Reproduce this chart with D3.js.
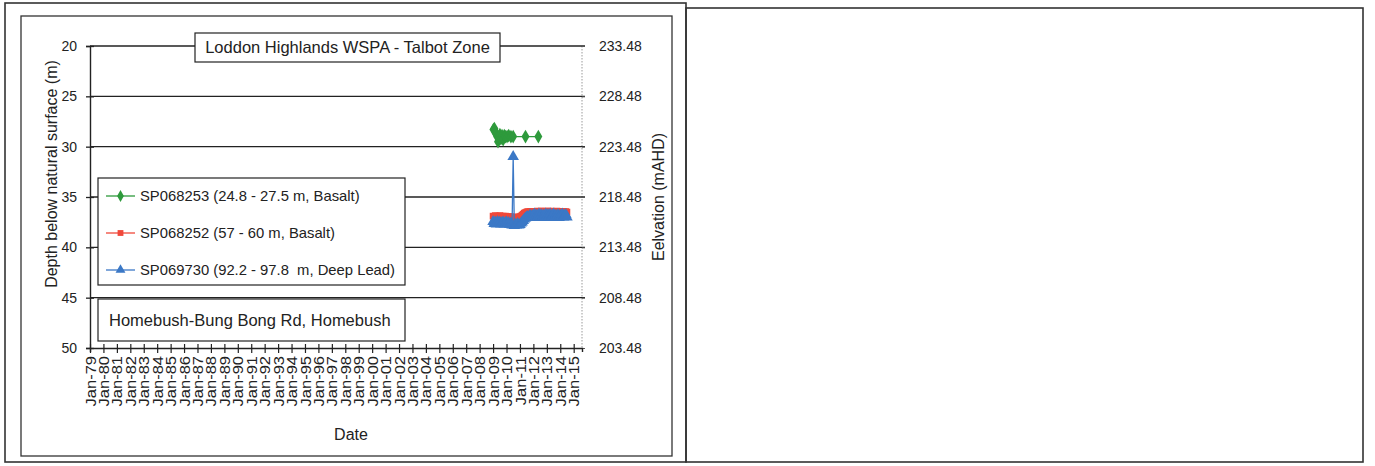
<!DOCTYPE html>
<html>
<head>
<meta charset="utf-8">
<script src="https://cdn.jsdelivr.net/npm/d3@7"></script>
<style>
  html, body { margin: 0; padding: 0; background: #fff; }
  svg { display: block; font-family: "Liberation Sans", Arial, sans-serif; }
</style>
</head>
<body>
<svg id="chart" width="1375" height="466"></svg>
<script>
// ---- Bore hydrograph data (depth below natural surface, m) ----
const seriesNames = [
  "SP068253 (24.8 - 27.5 m, Basalt)",
  "SP068252 (57 - 60 m, Basalt)",
  "SP069730 (92.2 - 97.8  m, Deep Lead)"
];
const seriesColors = ["#2e9a3c", "#f0483a", "#3b78c6"];

// SP068253 manual readings
const greenDates = ["2009-01-10","2009-02-05","2009-03-01","2009-03-25","2009-04-20","2009-05-15",
  "2009-06-10","2009-07-05","2009-08-01","2009-09-01","2009-10-01","2009-11-01","2009-12-01",
  "2010-01-15","2010-03-01","2010-05-01","2010-07-01","2011-06-01","2012-05-15"];
const greenDepth = [28.3, 28.2, 28.5, 28.7, 29.0, 29.5, 29.1, 28.8, 29.2, 28.9, 29.3, 28.9, 29.0,
  29.0, 28.9, 29.0, 29.0, 29.0, 29.0];

// SP068252 and SP069730 logger readings, monthly Jan-2009 to Jul-2014
const loggerStart = "2009-01-01";
const redDepth = [
  36.9, 36.95, 36.85, 36.95, 36.9, 36.95, 36.85, 36.9, 36.95, 36.9, 36.95, 36.9,
  36.95, 37.0, 36.95, 37.0, 36.95, 37.05, 37.0, 37.05, 37.0, 37.05, 37.0, 37.0,
  36.95, 36.9, 36.8, 36.7, 36.6, 36.55, 36.5, 36.45, 36.5, 36.45, 36.45, 36.5,
  36.45, 36.45, 36.5, 36.45, 36.4, 36.45, 36.45, 36.4, 36.45, 36.45, 36.4, 36.45,
  36.45, 36.4, 36.45, 36.45, 36.4, 36.45, 36.5, 36.45, 36.45, 36.4, 36.45, 36.45,
  36.45, 36.45, 36.5, 36.45, 36.5, 36.45, 36.5
];
const blueDepth = [
  37.45, 37.65, 37.5, 37.7, 37.45, 37.6, 37.5, 37.7, 37.55, 37.5, 37.7, 37.55,
  37.5, 37.7, 37.55, 37.75, 37.6, 37.8, 31.0, 37.85, 37.75, 37.8, 37.65, 37.8,
  37.75, 37.6, 37.5, 37.35, 37.2, 37.1, 37.0, 36.95, 37.05, 36.8, 37.0, 36.85,
  37.0, 36.7, 37.05, 36.8, 36.95, 36.7, 37.05, 36.75, 36.95, 36.8, 37.05, 36.7,
  37.0, 36.75, 36.95, 36.7, 37.05, 36.8, 36.7, 37.0, 36.8, 36.95, 36.75, 37.05,
  36.8, 36.95, 36.7, 37.0, 36.85, 36.75, 37.0
];

const depthTicks = [20, 25, 30, 35, 40, 45, 50];
const elevationTicks = [233.48, 228.48, 223.48, 218.48, 213.48, 208.48, 203.48];
const surfaceElevation = 253.48;
const xTickYears = d3.range(1979, 2016);

const parse = d3.timeParse("%Y-%m-%d");
const monthStart = parse(loggerStart);
const loggerDates = redDepth.map((_, i) => d3.timeMonth.offset(monthStart, i));

const greenData = greenDates.map((d, i) => ({ date: parse(d), v: greenDepth[i] }));
const redData = loggerDates.map((d, i) => ({ date: d, v: redDepth[i] }));
const blueData = loggerDates.map((d, i) => ({ date: d, v: blueDepth[i] }));

const svg = d3.select("#chart");

// ---- frames ----
const frameColor = "#333";
svg.append("rect").attr("x", 5).attr("y", 3).attr("width", 681).attr("height", 459)
  .attr("fill", "none").attr("stroke", frameColor).attr("stroke-width", 1.6);
svg.append("rect").attr("x", 686).attr("y", 8).attr("width", 677).attr("height", 454)
  .attr("fill", "none").attr("stroke", frameColor).attr("stroke-width", 1.6);
svg.append("rect").attr("x", 21).attr("y", 16).attr("width", 651).attr("height", 440)
  .attr("fill", "none").attr("stroke", frameColor).attr("stroke-width", 1.3);

// ---- scales ----
const plot = { left: 90, right: 582, top: 46, bottom: 348 };
const x = d3.scaleTime()
  .domain([new Date(1979, 0, 1), new Date(2015, 7, 15)])
  .range([plot.left, plot.right]);
const y = d3.scaleLinear().domain([20, 50]).range([plot.top, plot.bottom]);
const yR = d3.scaleLinear().domain([surfaceElevation - 20, surfaceElevation - 50])
  .range([plot.top, plot.bottom]);

// plot area right border (dotted)
svg.append("line").attr("x1", plot.right).attr("x2", plot.right)
  .attr("y1", plot.top).attr("y2", plot.bottom)
  .attr("stroke", "#9a9a9a").attr("stroke-width", 1).attr("stroke-dasharray", "1.5,1.5");

// gridlines
svg.append("g").selectAll("line").data(depthTicks.slice(0, -1)).join("line")
  .attr("x1", plot.left).attr("x2", plot.right + 3)
  .attr("y1", d => y(d)).attr("y2", d => y(d))
  .attr("stroke", "#222").attr("stroke-width", 1.4);

// left axis
const gL = svg.append("g").attr("transform", `translate(${plot.left},0)`)
  .call(d3.axisLeft(y).tickValues(depthTicks).tickSize(4).tickPadding(9));
gL.selectAll(".tick line").attr("x2", -4).attr("x1", 4);
gL.select(".domain").attr("stroke", "#222").attr("stroke-width", 1.4);
gL.selectAll(".tick line").attr("stroke", "#222").attr("stroke-width", 1.3);
gL.selectAll("text").attr("font-size", 14).attr("fill", "#222")
  .attr("font-family", "Liberation Sans, Arial, sans-serif");

// right axis
const gR = svg.append("g").attr("transform", `translate(${plot.right},0)`)
  .call(d3.axisRight(yR).tickValues(elevationTicks).tickSize(3).tickPadding(14)
    .tickFormat(d3.format(".2f")));
gR.select(".domain").remove();
gR.selectAll(".tick line").attr("stroke", "#555");
gR.selectAll("text").attr("font-size", 14).attr("fill", "#222")
  .attr("font-family", "Liberation Sans, Arial, sans-serif");

// bottom axis (year labels read upward, slightly elongated)
const gB = svg.append("g").attr("transform", `translate(0,${plot.bottom})`)
  .call(d3.axisBottom(x).tickValues(xTickYears.map(yr => new Date(yr, 0, 1)))
    .tickSize(4).tickFormat(d3.timeFormat("Jan-%y")));
gB.select(".domain").attr("stroke", "#222").attr("stroke-width", 1.4);
gB.selectAll(".tick line").attr("y1", -4).attr("y2", 5).attr("stroke", "#222").attr("stroke-width", 1.2);
gB.selectAll("text")
  .attr("font-size", 14.5).attr("fill", "#222")
  .attr("font-family", "Liberation Sans, Arial, sans-serif")
  .attr("transform", "rotate(-90) scale(1.14,1)")
  .attr("x", -7).attr("y", 0).attr("dy", "0.35em")
  .style("text-anchor", "end");

// axis titles
svg.append("text").attr("transform", "translate(51,174) rotate(-90)")
  .attr("text-anchor", "middle").attr("dy", "0.35em")
  .attr("font-size", 16).attr("fill", "#222").text("Depth below natural surface (m)");
svg.append("text").attr("transform", "translate(658,197) rotate(-90)")
  .attr("text-anchor", "middle").attr("dy", "0.35em")
  .attr("font-size", 16).attr("fill", "#222").text("Eelvation (mAHD)");
svg.append("text").attr("x", 351).attr("y", 440)
  .attr("text-anchor", "middle").attr("font-size", 16).attr("fill", "#222").text("Date");

// ---- series ----
const line = d3.line().x(d => x(d.date)).y(d => y(d.v));
const symbols = [d3.symbolDiamond, d3.symbolSquare, d3.symbolTriangle];
const symSizes = [55, 45, 58];
const allData = [greenData, redData, blueData];

allData.forEach((data, i) => {
  const g = svg.append("g");
  g.append("path").datum(data).attr("d", line)
    .attr("fill", "none").attr("stroke", seriesColors[i]).attr("stroke-width", 1.3);
  g.selectAll("path.m").data(data).join("path").attr("class", "m")
    .attr("transform", d => `translate(${x(d.date)},${y(d.v)})`)
    .attr("d", d3.symbol(symbols[i], symSizes[i]))
    .attr("fill", seriesColors[i]);
});

// ---- title box ----
const titleG = svg.append("g");
titleG.append("rect").attr("x", 195).attr("y", 33).attr("width", 305).attr("height", 29)
  .attr("fill", "#fff").attr("stroke", "#222").attr("stroke-width", 1.2);
titleG.append("text").attr("x", 347.5).attr("y", 53).attr("text-anchor", "middle")
  .attr("font-size", 16.5).attr("fill", "#222").text("Loddon Highlands WSPA - Talbot Zone");

// ---- legend ----
const legG = svg.append("g");
legG.append("rect").attr("x", 98).attr("y", 178).attr("width", 307).attr("height", 107)
  .attr("fill", "#fff").attr("stroke", "#222").attr("stroke-width", 1.2);
const legRows = [196, 233, 270];
const legSizes = [40, 34, 42];
seriesNames.forEach((name, i) => {
  const ly = legRows[i];
  legG.append("line").attr("x1", 106).attr("x2", 135).attr("y1", ly).attr("y2", ly)
    .attr("stroke", seriesColors[i]).attr("stroke-width", 1.3);
  legG.append("path").attr("transform", `translate(120.5,${ly})`)
    .attr("d", d3.symbol(symbols[i], legSizes[i])).attr("fill", seriesColors[i]);
  legG.append("text").attr("x", 140).attr("y", ly).attr("dy", "0.35em")
    .style("white-space", "pre")
    .attr("font-size", 14.8).attr("fill", "#222").text(name);
});

// ---- location box ----
const locG = svg.append("g");
locG.append("rect").attr("x", 98).attr("y", 299).attr("width", 307).attr("height", 42)
  .attr("fill", "#fff").attr("stroke", "#222").attr("stroke-width", 1.2);
locG.append("text").attr("x", 109).attr("y", 320).attr("dy", "0.35em")
  .attr("font-size", 16.5).attr("fill", "#222").text("Homebush-Bung Bong Rd, Homebush");
</script>
</body>
</html>
